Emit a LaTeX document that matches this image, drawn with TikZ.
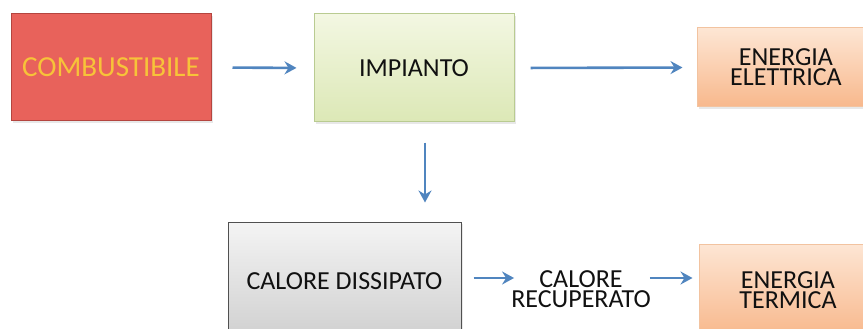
\documentclass[tikz,border=0pt]{standalone}
\usepackage{fontspec}
\setmainfont{Carlito}
\usetikzlibrary{arrows.meta,shadows}
\definecolor{arrblue}{HTML}{5085BF}
\definecolor{combfill}{HTML}{E8625B}
\definecolor{combborder}{HTML}{B4453F}
\definecolor{combtext}{HTML}{F7C339}
\definecolor{greentop}{HTML}{F3F7E2}
\definecolor{greenbot}{HTML}{DCE8B6}
\definecolor{greenborder}{HTML}{B9CB91}
\definecolor{peachtop}{HTML}{FDE6D4}
\definecolor{peachbot}{HTML}{F8B88C}
\definecolor{peachborder}{HTML}{F2C3A0}
\definecolor{graytop}{HTML}{F4F4F4}
\definecolor{graybot}{HTML}{CFCFCF}
\definecolor{grayborder}{HTML}{505050}
\definecolor{txt}{HTML}{111111}
\tikzset{
  x=1pt, y=-1pt,
  box/.style={rectangle, inner sep=0pt, align=center, text=txt,
    font=\fontsize{26}{20}\selectfont, line width=1pt,
    drop shadow={opacity=0.18, shadow xshift=1.5pt, shadow yshift=-2pt}},
  arr/.style={draw=arrblue, line width=2.6pt,
    -{Stealth[length=12pt, width=13pt, inset=4pt]}},
  plain/.style={inner sep=0pt, align=center, text=txt,
    font=\fontsize{26}{20}\selectfont}
}
\begin{document}
\begin{tikzpicture}
\useasboundingbox (0,0) rectangle (863,329);
\fill[white] (0,0) rectangle (863,329);
\node[box, draw=combborder, fill=combfill, text=combtext, font=\fontsize{29}{30}\selectfont,
  minimum width=200pt, minimum height=107pt] (comb) at (111,67.5) {COMBUSTIBILE};
\node[box, draw=greenborder, top color=greentop, bottom color=greenbot,
  minimum width=200pt, minimum height=108pt] (imp) at (414,68) {IMPIANTO};
\node[box, draw=peachborder, top color=peachtop, bottom color=peachbot,
  minimum width=178pt, minimum height=79pt] (ee) at (786,67.5) {ENERGIA\\ELETTRICA};
\node[box, draw=grayborder, top color=graytop, bottom color=graybot,
  minimum width=233pt, minimum height=118pt] (cd) at (344.5,281) {CALORE DISSIPATO};
\node[plain] (cr) at (581,289) {CALORE\\RECUPERATO};
\node[box, draw=peachborder, top color=peachtop, bottom color=peachbot,
  minimum width=178pt, minimum height=92pt] (et) at (788,290) {ENERGIA\\TERMICA};
\draw[arr, shorten <=21pt, shorten >=17pt] (comb.east) -- (imp.west);
\draw[arr, shorten <=16pt, shorten >=14pt] (imp.east) -- (ee.west);
\draw[arr, shorten <=20pt, shorten >=19pt] ([xshift=11pt]imp.south) -- ([xshift=11pt]imp.south |- cd.north);
\draw[arr, shorten <=12pt, shorten >=-3pt] ([yshift=3pt]cd.east) -- ([yshift=3pt]cd.east -| cr.west);
\draw[arr, shorten <=-1pt, shorten >=6pt] ([yshift=11pt]cr.east) -- ([yshift=11pt]cr.east -| et.west);
\end{tikzpicture}
\end{document}
